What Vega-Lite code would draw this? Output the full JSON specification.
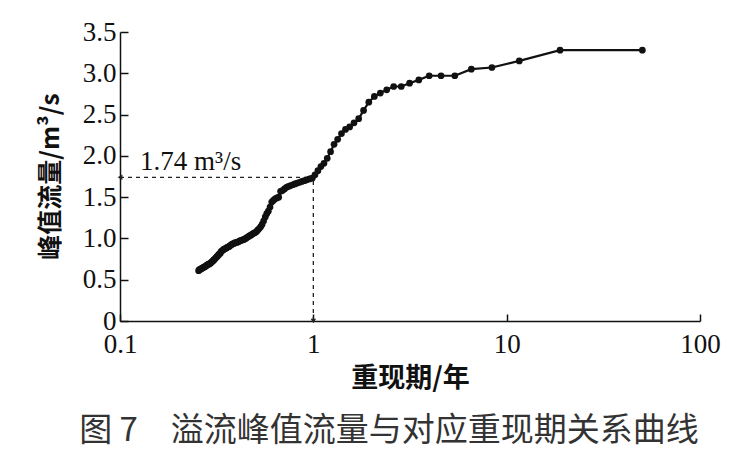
{
  "$schema": "https://vega.github.io/schema/vega-lite/v6.json",
  "width": 580,
  "height": 289,
  "autosize": "none",
  "padding": {"left": 120, "top": 32, "right": 50, "bottom": 151},
  "background": "white",
  "config": {
    "view": {"stroke": null},
    "axis": {"grid": false, "domainColor": "#111", "domainWidth": 1.5, "tickColor": "#111", "tickWidth": 1.5, "labelColor": "#111", "titleColor": "#111"}
  },
  "title": {
    "text": "图 7　溢流峰值流量与对应重现期关系曲线",
    "orient": "bottom",
    "anchor": "middle",
    "frame": "group",
    "dx": -21,
    "offset": 24,
    "font": "Noto Sans CJK SC",
    "fontSize": 33,
    "fontWeight": "normal",
    "color": "#333"
  },
  "datasets": {
    "curve": [
      {"T": 50.33, "Q": 3.28}, {"T": 18.88, "Q": 3.28}, {"T": 11.62, "Q": 3.15}, {"T": 8.389, "Q": 3.07},
      {"T": 6.565, "Q": 3.05}, {"T": 5.393, "Q": 2.97}, {"T": 4.576, "Q": 2.97}, {"T": 3.974, "Q": 2.97},
      {"T": 3.512, "Q": 2.92}, {"T": 3.146, "Q": 2.88}, {"T": 2.849, "Q": 2.84}, {"T": 2.603, "Q": 2.84},
      {"T": 2.397, "Q": 2.8}, {"T": 2.221, "Q": 2.76}, {"T": 2.068, "Q": 2.72}, {"T": 1.936, "Q": 2.65},
      {"T": 1.819, "Q": 2.55}, {"T": 1.716, "Q": 2.45}, {"T": 1.624, "Q": 2.4}, {"T": 1.541, "Q": 2.35},
      {"T": 1.466, "Q": 2.32}, {"T": 1.398, "Q": 2.27}, {"T": 1.336, "Q": 2.2}, {"T": 1.28, "Q": 2.14},
      {"T": 1.228, "Q": 2.05}, {"T": 1.18, "Q": 1.97}, {"T": 1.135, "Q": 1.91}, {"T": 1.094, "Q": 1.87},
      {"T": 1.056, "Q": 1.82}, {"T": 1.02, "Q": 1.77}, {"T": 0.987, "Q": 1.73}, {"T": 0.956, "Q": 1.72},
      {"T": 0.926, "Q": 1.71}, {"T": 0.899, "Q": 1.7}, {"T": 0.873, "Q": 1.69}, {"T": 0.849, "Q": 1.68},
      {"T": 0.825, "Q": 1.67}, {"T": 0.803, "Q": 1.66}, {"T": 0.783, "Q": 1.65}, {"T": 0.763, "Q": 1.64},
      {"T": 0.744, "Q": 1.63}, {"T": 0.726, "Q": 1.62}, {"T": 0.709, "Q": 1.6}, {"T": 0.692, "Q": 1.58},
      {"T": 0.677, "Q": 1.57}, {"T": 0.662, "Q": 1.5}, {"T": 0.648, "Q": 1.49}, {"T": 0.634, "Q": 1.48},
      {"T": 0.621, "Q": 1.46}, {"T": 0.609, "Q": 1.44}, {"T": 0.597, "Q": 1.38}, {"T": 0.585, "Q": 1.33},
      {"T": 0.574, "Q": 1.3}, {"T": 0.564, "Q": 1.26}, {"T": 0.553, "Q": 1.21}, {"T": 0.543, "Q": 1.17},
      {"T": 0.534, "Q": 1.14}, {"T": 0.525, "Q": 1.12}, {"T": 0.515, "Q": 1.1}, {"T": 0.507, "Q": 1.08},
      {"T": 0.498, "Q": 1.07}, {"T": 0.49, "Q": 1.06}, {"T": 0.482, "Q": 1.05}, {"T": 0.475, "Q": 1.04},
      {"T": 0.467, "Q": 1.03}, {"T": 0.46, "Q": 1.02}, {"T": 0.453, "Q": 1.01}, {"T": 0.447, "Q": 1.0},
      {"T": 0.44, "Q": 0.99}, {"T": 0.434, "Q": 0.985}, {"T": 0.428, "Q": 0.98}, {"T": 0.422, "Q": 0.975},
      {"T": 0.416, "Q": 0.97}, {"T": 0.41, "Q": 0.96}, {"T": 0.405, "Q": 0.955}, {"T": 0.4, "Q": 0.95},
      {"T": 0.394, "Q": 0.95}, {"T": 0.389, "Q": 0.94}, {"T": 0.384, "Q": 0.935}, {"T": 0.38, "Q": 0.93},
      {"T": 0.375, "Q": 0.92}, {"T": 0.37, "Q": 0.91}, {"T": 0.366, "Q": 0.9}, {"T": 0.361, "Q": 0.895},
      {"T": 0.357, "Q": 0.89}, {"T": 0.353, "Q": 0.88}, {"T": 0.349, "Q": 0.875}, {"T": 0.345, "Q": 0.87},
      {"T": 0.341, "Q": 0.86}, {"T": 0.337, "Q": 0.85}, {"T": 0.333, "Q": 0.84}, {"T": 0.33, "Q": 0.82},
      {"T": 0.326, "Q": 0.81}, {"T": 0.323, "Q": 0.8}, {"T": 0.319, "Q": 0.785}, {"T": 0.316, "Q": 0.775},
      {"T": 0.313, "Q": 0.765}, {"T": 0.309, "Q": 0.75}, {"T": 0.306, "Q": 0.74}, {"T": 0.303, "Q": 0.73},
      {"T": 0.3, "Q": 0.72}, {"T": 0.297, "Q": 0.71}, {"T": 0.294, "Q": 0.7}, {"T": 0.291, "Q": 0.695},
      {"T": 0.289, "Q": 0.69}, {"T": 0.286, "Q": 0.685}, {"T": 0.283, "Q": 0.68}, {"T": 0.281, "Q": 0.675},
      {"T": 0.278, "Q": 0.665}, {"T": 0.276, "Q": 0.66}, {"T": 0.273, "Q": 0.655}, {"T": 0.271, "Q": 0.65},
      {"T": 0.268, "Q": 0.645}, {"T": 0.266, "Q": 0.64}, {"T": 0.264, "Q": 0.635}, {"T": 0.262, "Q": 0.63},
      {"T": 0.259, "Q": 0.625}, {"T": 0.257, "Q": 0.62}, {"T": 0.255, "Q": 0.61}
    ],
    "guides": [
      {"x": 0.1, "x2": 1, "y": 1.74, "y2": 1.74},
      {"x": 1, "x2": 1, "y": 0, "y2": 1.74}
    ],
    "arrows": [
      {"x": 0.1, "y": 1.74, "shape": "triangle-left"},
      {"x": 1, "y": 0, "shape": "triangle-down"}
    ],
    "label": [
      {"x": 0.127, "y": 1.92, "text": "1.74 m³/s"}
    ]
  },
  "layer": [
    {
      "data": {"name": "guides"},
      "mark": {"type": "rule", "strokeDash": [4, 4], "strokeWidth": 1.3, "color": "#222"},
      "encoding": {
        "x": {"field": "x", "type": "quantitative", "scale": {"type": "log", "domain": [0.1, 100]},
          "axis": {"values": [0.1, 1, 10, 100], "format": "~g", "tickSize": -7, "labelPadding": 17,
            "labelFont": "Liberation Serif", "labelFontSize": 27, "labelFlush": false,
            "title": "重现期/年", "titleFont": "Noto Sans CJK SC", "titleFontSize": 27, "titleFontWeight": "bold",
            "titleY": 57, "titleBaseline": "middle"}},
        "x2": {"field": "x2"},
        "y": {"field": "y", "type": "quantitative", "scale": {"domain": [0, 3.5]},
          "axis": {"values": [0, 0.5, 1, 1.5, 2, 2.5, 3, 3.5], "labelExpr": "datum.value == 0 ? '0' : format(datum.value, '.1f')",
            "tickSize": -8, "labelPadding": 12, "labelFont": "Liberation Serif", "labelFontSize": 27,
            "labelFlush": false, "title": "峰值流量/m³/s", "titleFont": "Noto Sans CJK SC", "titleFontSize": 25,
            "titleFontWeight": "bold", "titleX": -70, "titleY": 144, "titleBaseline": "middle", "titleAngle": -90}},
        "y2": {"field": "y2"}
      }
    },
    {
      "data": {"name": "arrows"},
      "mark": {"type": "point", "filled": true, "size": 30, "color": "#222", "opacity": 1},
      "encoding": {
        "x": {"field": "x", "type": "quantitative"},
        "y": {"field": "y", "type": "quantitative"},
        "shape": {"field": "shape", "type": "nominal", "scale": null}
      }
    },
    {
      "data": {"name": "curve"},
      "mark": {"type": "line", "color": "#111", "strokeWidth": 2.2, "point": {"filled": true, "size": 45, "color": "#111", "opacity": 1}},
      "encoding": {
        "x": {"field": "T", "type": "quantitative"},
        "y": {"field": "Q", "type": "quantitative"}
      }
    },
    {
      "data": {"name": "label"},
      "mark": {"type": "text", "align": "left", "baseline": "middle", "font": "Liberation Serif", "fontSize": 27, "color": "#111"},
      "encoding": {
        "x": {"field": "x", "type": "quantitative"},
        "y": {"field": "y", "type": "quantitative"},
        "text": {"field": "text"}
      }
    }
  ]
}
